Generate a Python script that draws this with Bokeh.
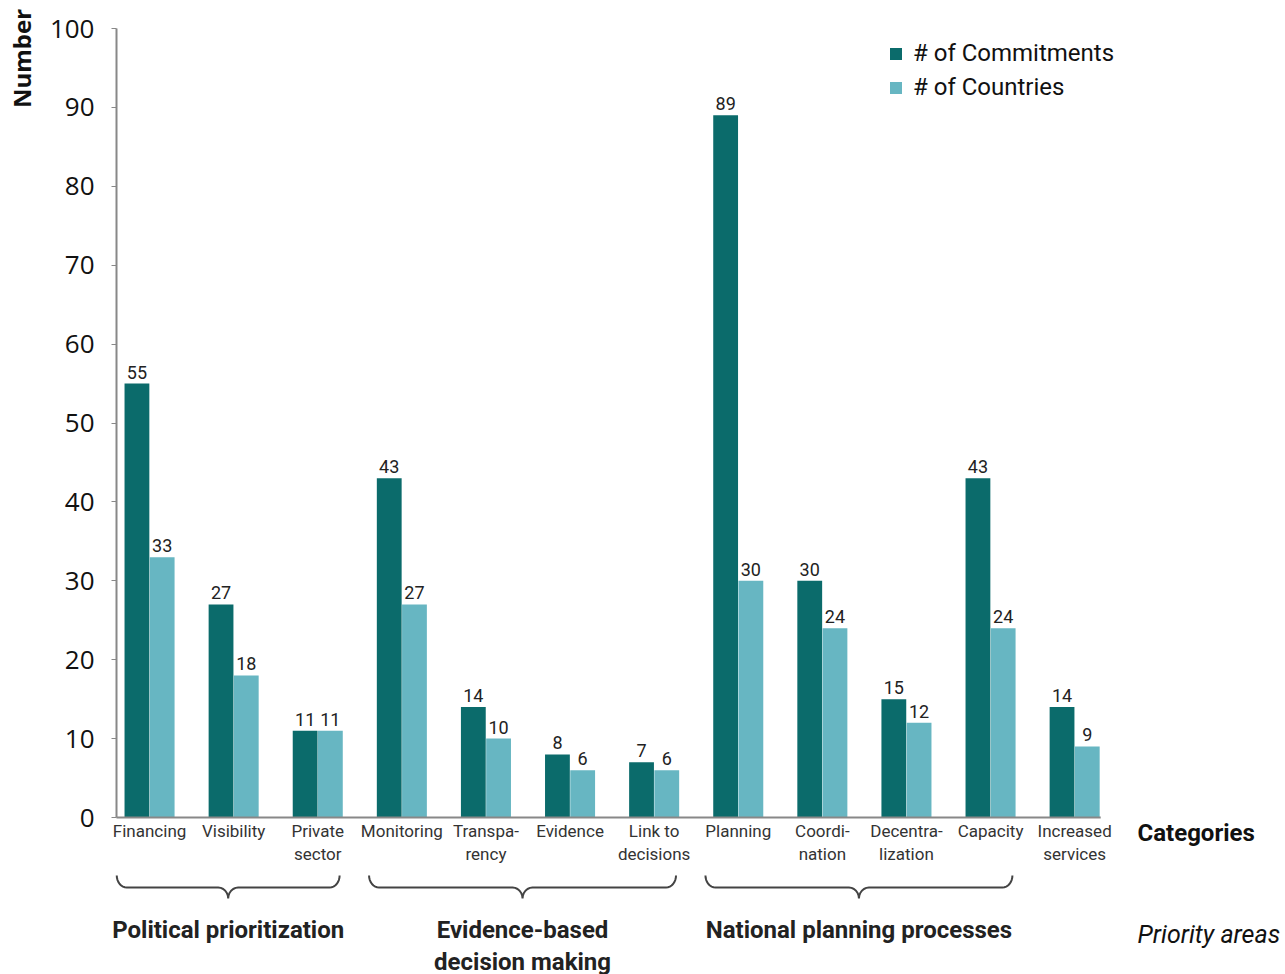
import math
from bokeh.plotting import figure
from bokeh.models import Range1d, FixedTicker, Legend, LegendItem, ColumnDataSource
from bokeh.core.properties import value
from bokeh.embed import file_html
from bokeh.resources import INLINE

# ---- data -------------------------------------------------------------
categories = ["Financing", "Visibility", "Private\nsector", "Monitoring",
              "Transpa-\nrency", "Evidence", "Link to\ndecisions", "Planning",
              "Coordi-\nnation", "Decentra-\nlization", "Capacity",
              "Increased\nservices"]
commitments = [55, 27, 11, 43, 14, 8, 7, 89, 30, 15, 43, 14]
countries = [33, 18, 11, 27, 10, 6, 6, 30, 24, 12, 24, 9]
groups = ["Political prioritization", "Evidence-based\ndecision making",
          "National planning processes"]
group_first = [0, 3, 7]
group_last = [2, 6, 10]
y_ticks = list(range(0, 101, 10))

DARK = "#0b6b6b"
LIGHT = "#67b6c2"
FONT = "Open Sans"
CFONT = "Roboto"

# the frame fills the whole canvas; the value axis is pinned inside it
PX_X = 84.1          # pixels per category
PX_Y = 7.89          # pixels per unit
X0 = -0.393          # left end of the category axis
X1 = 11.31           # right end of the category axis
XMIN = X0 - 116 / PX_X
XMAX = X0 + (1285 - 116) / PX_X
YMAX = 100 + 28 / PX_Y
YMIN = -(974 - 817) / PX_Y

p = figure(width=1285, height=974, output_backend="svg", toolbar_location=None,
           x_range=Range1d(XMIN, XMAX), y_range=Range1d(YMIN, YMAX),
           min_border=0, outline_line_color=None)
p.xaxis.visible = False
p.xgrid.visible = False
p.ygrid.visible = False

ax = p.yaxis[0]
ax.fixed_location = X0
ax.bounds = (0, 100)
ax.ticker = FixedTicker(ticks=y_ticks)
ax.minor_tick_line_color = None
ax.major_tick_in = 0
ax.major_tick_out = 5
ax.major_tick_line_color = "#888888"
ax.axis_line_color = "#888888"
ax.axis_line_width = 2
ax.major_label_text_font = FONT
ax.major_label_text_font_size = "26px"
ax.major_label_text_color = "#111111"
ax.major_label_standoff = 17

idx = list(range(len(categories)))
src = ColumnDataSource(dict(
    xc=[i - 0.15 for i in idx], xn=[i + 0.15 for i in idx],
    com=commitments, cou=countries,
    com_t=[str(v) for v in commitments], cou_t=[str(v) for v in countries]))

r1 = p.vbar(x="xc", top="com", width=0.295, bottom=0, source=src,
            fill_color=DARK, line_color=None)
r2 = p.vbar(x="xn", top="cou", width=0.295, bottom=0, source=src,
            fill_color=LIGHT, line_color=None)

# value labels above the bars
for xcol, ycol, tcol in (("xc", "com", "com_t"), ("xn", "cou", "cou_t")):
    p.text(x=xcol, y=ycol, text=tcol, source=src, y_offset=-5,
           text_align="center", text_baseline="bottom",
           text_font=value(CFONT), text_font_size="18px", text_color="#222222")

# category axis line
p.segment(x0=[X0], y0=[0], x1=[X1], y1=[0], line_color="#888888",
          line_width=2)

# category labels (up to two lines)
for i, c in enumerate(categories):
    for k, ln in enumerate(c.split("\n")):
        p.text(x=[i], y=[0], text=[ln], y_offset=3 + 23 * k,
               text_align="center", text_baseline="top",
               text_font=value(CFONT), text_font_size="17px",
               text_color="#333333")


def brace(x0, x1, ytop):
    """Curly brace opening upwards, with its point in the middle."""
    rx = 10 / PX_X
    ry = 12 / PX_Y
    rx2 = 10 / PX_X
    tip = 11 / PX_Y
    xm = (x0 + x1) / 2
    yflat = ytop - ry
    xs, ys = [], []
    for j in range(9):
        a = math.pi / 2 * j / 8
        xs.append(x0 + rx * (1 - math.cos(a)))
        ys.append(ytop - ry * math.sin(a))
    for j in range(7):
        a = math.pi / 2 * j / 6
        xs.append(xm - rx2 + rx2 * math.sin(a))
        ys.append(yflat - tip * (1 - math.cos(a)))
    rxs = [2 * xm - x for x in reversed(xs[:-1])]
    rys = list(reversed(ys[:-1]))
    return xs + rxs, ys + rys


for g, a, b in zip(groups, group_first, group_last):
    bx, by = brace(a - 0.39, b + 0.26, -58 / PX_Y)
    p.line(bx, by, line_color="#444444", line_width=2)
    xm = (a - 0.39 + b + 0.26) / 2
    for k, ln in enumerate(g.split("\n")):
        p.text(x=[xm], y=[0], text=[ln], y_offset=112 + 32 * k,
               text_align="center", text_baseline="middle",
               text_font=value(CFONT), text_font_size="24px",
               text_font_style="bold", text_color="#222222")

# axis titles
TX = X0 + (1137 - 116) / PX_X
p.text(x=[TX], y=[0], text=["Categories"], y_offset=15,
       text_align="left", text_baseline="middle", text_font=value(CFONT),
       text_font_size="24px", text_font_style="bold", text_color="#111111")
p.text(x=[TX], y=[0], text=["Priority areas"], y_offset=117,
       text_align="left", text_baseline="middle", text_font=value(CFONT),
       text_font_size="25px", text_font_style="italic", text_color="#111111")
p.text(x=[XMIN + 21 / PX_X], y=[100], text=["Number"], y_offset=30,
       angle=math.pi / 2, text_align="center", text_baseline="middle",
       text_font=value(FONT), text_font_size="24px", text_font_style="bold",
       text_color="#111111")

legend = Legend(items=[LegendItem(label="# of Commitments", renderers=[r1]),
                       LegendItem(label="# of Countries", renderers=[r2])],
                location=(888, 873), glyph_width=15, glyph_height=15,
                label_text_font=CFONT, label_text_font_size="24px",
                label_text_color="#111111", label_height=24, spacing=6,
                padding=0, margin=0, border_line_color=None,
                background_fill_alpha=0, label_standoff=10)
p.add_layout(legend)

open("out.html", "w").write(file_html(p, INLINE))
